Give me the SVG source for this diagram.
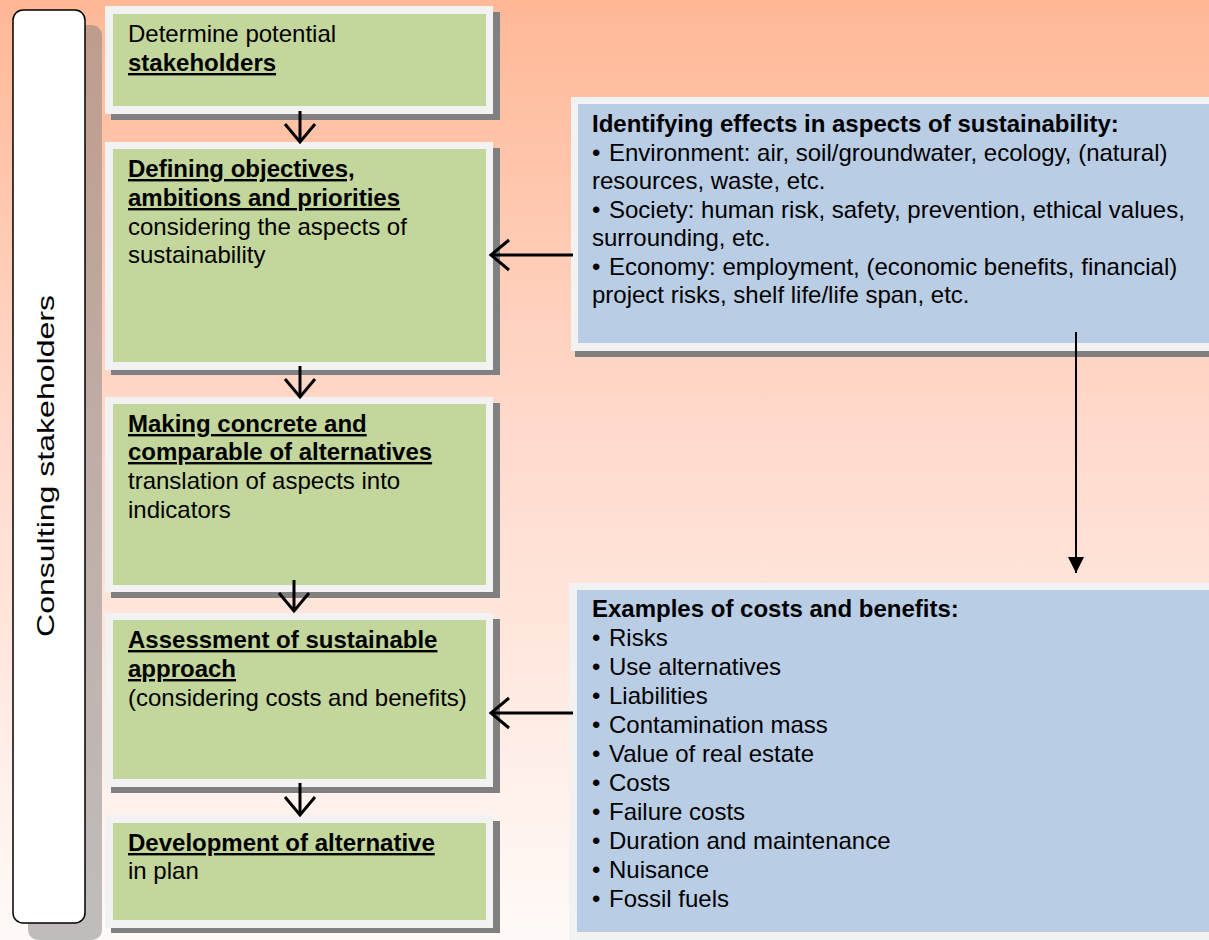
<svg xmlns="http://www.w3.org/2000/svg" width="1209" height="940" viewBox="0 0 1209 940">
<defs>
<linearGradient id="bg" x1="0" y1="0" x2="0" y2="1">
<stop offset="0" stop-color="#FFB896"/>
<stop offset="0.45" stop-color="#FFD9CB"/>
<stop offset="1" stop-color="#FFFAF8"/>
</linearGradient>
<marker id="open" viewBox="-22 -18 26 36" refX="0" refY="0" markerWidth="26" markerHeight="36" markerUnits="userSpaceOnUse" orient="auto">
<path d="M-18,-15 L0,0 L-18,15" fill="none" stroke="#000" stroke-width="3"/>
</marker>
<marker id="solid" viewBox="-16 -9 17 18" refX="0" refY="0" markerWidth="17" markerHeight="18" markerUnits="userSpaceOnUse" orient="auto">
<path d="M-16,-8 L0,0 L-16,8 Z" fill="#000"/>
</marker>
</defs>
<style>
.t{font-family:"Liberation Sans",Arial,sans-serif;font-size:24px;fill:#000}
.b{font-weight:bold}
.u{text-decoration:underline}
.frame{fill:#F2F2F2}
.green{fill:#C3D69B}
.blue{fill:#B9CDE5}
.shadow{fill:#808080}
.conn{stroke:#000;fill:none}
</style>
<rect x="0" y="0" width="1209" height="940" fill="url(#bg)"/>

<g id="consulting">
<rect x="28" y="25" width="74" height="915" rx="10" fill="#808080" fill-opacity="0.5"/>
<rect x="13" y="10" width="72" height="913" rx="10" fill="#FFFFFF" stroke="#000" stroke-width="1.5"/>
<text class="t" font-size="29" text-anchor="middle" transform="translate(54,466) rotate(-90)" textLength="342" lengthAdjust="spacingAndGlyphs">Consulting stakeholders</text>
</g>

<g id="step1">
<rect class="shadow" x="111" y="12" width="389" height="108"/>
<rect class="frame" x="105" y="6" width="388" height="108"/>
<rect class="green" x="113" y="14" width="373" height="92"/>
<text class="t" x="128" y="42">Determine potential</text>
<text class="t b u" x="128" y="71">stakeholders</text>
</g>

<g id="step2">
<rect class="shadow" x="111" y="148" width="389" height="227"/>
<rect class="frame" x="105" y="142" width="388" height="228"/>
<rect class="green" x="113" y="149" width="373" height="213"/>
<text class="t b u" x="128" y="177">Defining objectives,</text>
<text class="t b u" x="128" y="206">ambitions and priorities</text>
<text class="t" x="128" y="235">considering the aspects of</text>
<text class="t" x="128" y="263">sustainability</text>
</g>

<g id="step3">
<rect class="shadow" x="111" y="403" width="389" height="195"/>
<rect class="frame" x="105" y="397" width="388" height="195"/>
<rect class="green" x="113" y="404" width="373" height="181"/>
<text class="t b u" x="128" y="432">Making concrete and</text>
<text class="t b u" x="128" y="460">comparable of alternatives</text>
<text class="t" x="128" y="489">translation of aspects into</text>
<text class="t" x="128" y="518">indicators</text>
</g>

<g id="step4">
<rect class="shadow" x="111" y="619" width="389" height="174"/>
<rect class="frame" x="105" y="613" width="388" height="174"/>
<rect class="green" x="113" y="620" width="373" height="159"/>
<text class="t b u" x="128" y="648">Assessment of sustainable</text>
<text class="t b u" x="128" y="677">approach</text>
<text class="t" x="128" y="706">(considering costs and benefits)</text>
</g>

<g id="step5">
<rect class="shadow" x="111" y="821" width="389" height="112"/>
<rect class="frame" x="105" y="815" width="388" height="113"/>
<rect class="green" x="113" y="823" width="373" height="97"/>
<text class="t b u" x="128" y="851">Development of alternative</text>
<text class="t" x="128" y="879">in plan</text>
</g>

<g id="effects">
<rect class="shadow" x="575" y="103" width="640" height="254"/>
<rect class="frame" x="571" y="97" width="640" height="254"/>
<rect class="blue" x="578" y="104" width="640" height="239"/>
<text class="t b" x="592" y="132">Identifying effects in aspects of sustainability:</text>
<text class="t" x="592" y="161"><tspan>•</tspan><tspan x="609">Environment: air, soil/groundwater, ecology, (natural)</tspan></text>
<text class="t" x="592" y="189">resources, waste, etc.</text>
<text class="t" x="592" y="218"><tspan>•</tspan><tspan x="609">Society: human risk, safety, prevention, ethical values,</tspan></text>
<text class="t" x="592" y="246">surrounding, etc.</text>
<text class="t" x="592" y="275"><tspan>•</tspan><tspan x="609">Economy: employment, (economic benefits, financial)</tspan></text>
<text class="t" x="592" y="303">project risks, shelf life/life span, etc.</text>
</g>

<g id="costs">
<rect class="frame" x="569" y="583" width="645" height="360"/>
<rect class="blue" x="577" y="590" width="640" height="342"/>
<text class="t b" x="592" y="617">Examples of costs and benefits:</text>
<text class="t" x="592" y="646"><tspan>•</tspan><tspan x="609">Risks</tspan></text>
<text class="t" x="592" y="675"><tspan>•</tspan><tspan x="609">Use alternatives</tspan></text>
<text class="t" x="592" y="704"><tspan>•</tspan><tspan x="609">Liabilities</tspan></text>
<text class="t" x="592" y="733"><tspan>•</tspan><tspan x="609">Contamination mass</tspan></text>
<text class="t" x="592" y="762"><tspan>•</tspan><tspan x="609">Value of real estate</tspan></text>
<text class="t" x="592" y="791"><tspan>•</tspan><tspan x="609">Costs</tspan></text>
<text class="t" x="592" y="820"><tspan>•</tspan><tspan x="609">Failure costs</tspan></text>
<text class="t" x="592" y="849"><tspan>•</tspan><tspan x="609">Duration and maintenance</tspan></text>
<text class="t" x="592" y="878"><tspan>•</tspan><tspan x="609">Nuisance</tspan></text>
<text class="t" x="592" y="907"><tspan>•</tspan><tspan x="609">Fossil fuels</tspan></text>
</g>

<g id="connectors">
<path class="conn" stroke-width="3" d="M300,111 L300,142" marker-end="url(#open)"/>
<path class="conn" stroke-width="3" d="M300,366 L300,397" marker-end="url(#open)"/>
<path class="conn" stroke-width="3" d="M294,580 L294,611" marker-end="url(#open)"/>
<path class="conn" stroke-width="3" d="M300,783 L300,815" marker-end="url(#open)"/>
<path class="conn" stroke-width="3" d="M573,255 L491,255" marker-end="url(#open)"/>
<path class="conn" stroke-width="3" d="M573,713 L491,713" marker-end="url(#open)"/>
<path class="conn" stroke-width="2" d="M1076,332 L1076,573" marker-end="url(#solid)"/>
</g>
</svg>
